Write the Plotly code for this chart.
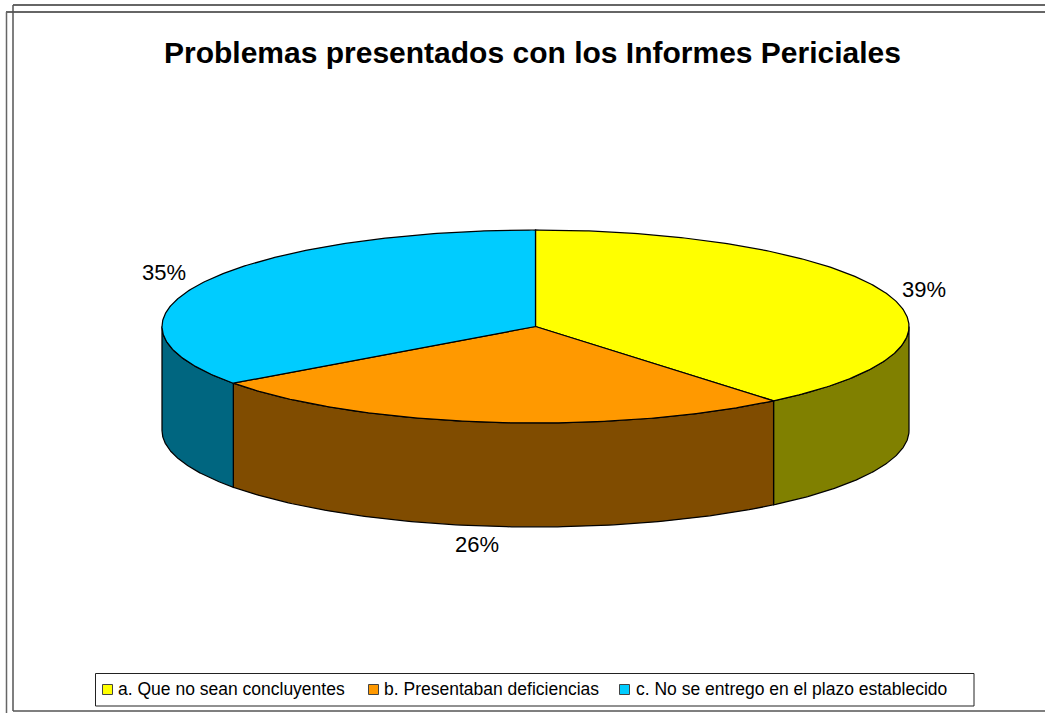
import numpy as np
import plotly.graph_objects as go

TITLE = "Problemas presentados con los Informes Periciales"
categories = ["a. Que no sean concluyentes", "b. Presentaban deficiencias", "c. No se entrego en el plazo establecido"]
values = [39, 26, 35]
top_colors = ["#FFFF00", "#FF9900", "#00CCFF"]
side_colors = ["#808000", "#804C00", "#006680"]

W, H = 1045, 713
CX, CY, RX, RY, DEPTH = 535.5, 326.5, 373.5, 96.5, 104
FONT = "Liberation Sans, Arial, sans-serif"

fig = go.Figure()


def ell(theta):
    return CX + RX * np.sin(theta), CY - RY * np.cos(theta)


def poly(x, y, color):
    fig.add_trace(go.Scatter(x=x, y=y, mode="lines", fill="toself", fillcolor=color,
                             line=dict(color="#000000", width=1.25), hoverinfo="skip", showlegend=False))


fractions = np.cumsum([0] + values) / sum(values) * 2 * np.pi
for i in range(len(values)):
    a0, a1 = max(fractions[i], np.pi / 2), min(fractions[i + 1], 3 * np.pi / 2)
    if a1 > a0:
        t = np.linspace(a0, a1, 120)
        x, y = ell(t)
        poly(np.r_[x, x[::-1], x[0]], np.r_[y, y[::-1] + DEPTH, y[0]], side_colors[i])
for i in range(len(values)):
    t = np.linspace(fractions[i], fractions[i + 1], 240)
    x, y = ell(t)
    poly(np.r_[CX, x, CX], np.r_[CY, y, CY], top_colors[i])

# percentage labels: placed from each slice's mid-angle, plus a nudge off the rim
label_nudge = [(37, -4), (-11.5, 18), (-38.5, -10)]
annotations = [dict(text=f"<b>{TITLE}</b>", x=532.5, y=52, xref="x", yref="y", showarrow=False,
                    font=dict(family=FONT, size=30, color="#000000"))]
mids = (fractions[:-1] + fractions[1:]) / 2
for i, v in enumerate(values):
    x, y = ell(mids[i])
    if np.cos(mids[i]) < 0 and i != 2:
        y += DEPTH
    annotations.append(dict(text=f"{v}%", x=x + label_nudge[i][0], y=y + label_nudge[i][1], xref="x", yref="y",
                            showarrow=False, font=dict(family=FONT, size=22, color="#000000")))

shapes = []
def line(x0, y0, x1, y1, color="#333333", w=1.5):
    shapes.append(dict(type="line", x0=x0, y0=y0, x1=x1, y1=y1, xref="x", yref="y",
                       line=dict(color=color, width=w), layer="above"))

line(13, 5, W, 5)
line(6, 12, W, 12)
line(6.5, 12, 6.5, H, "#666666")
line(13, 5, 13, 711, "#555555")
line(13, 711, W, 711, "#555555")

# legend
shapes.append(dict(type="rect", x0=95.5, y0=673.5, x1=974, y1=706, xref="x", yref="y",
                   line=dict(color="#222222", width=1), fillcolor="#FFFFFF", layer="above"))
swatch_x = [102.5, 368.5, 619.5]
text_x = [116, 382, 634]
for i, c in enumerate(categories):
    shapes.append(dict(type="rect", x0=swatch_x[i], y0=684.5, x1=swatch_x[i] + 10, y1=694.5, xref="x", yref="y",
                       line=dict(color="#444444", width=1), fillcolor=top_colors[i], layer="above"))
    annotations.append(dict(text=c, x=text_x[i], y=688.5, xref="x", yref="y", xanchor="left", showarrow=False,
                            font=dict(family=FONT, size=17.5, color="#000000")))

fig.update_layout(width=W, height=H, margin=dict(l=0, r=0, t=0, b=0), paper_bgcolor="white", plot_bgcolor="white",
                  xaxis=dict(range=[0, W], visible=False, fixedrange=True),
                  yaxis=dict(range=[H, 0], visible=False, fixedrange=True),
                  showlegend=False, shapes=shapes, annotations=annotations)
fig.write_html("out.html", config=dict(displayModeBar=False),
               post_script="document.body.style.margin='0';document.documentElement.style.overflow='hidden';")
